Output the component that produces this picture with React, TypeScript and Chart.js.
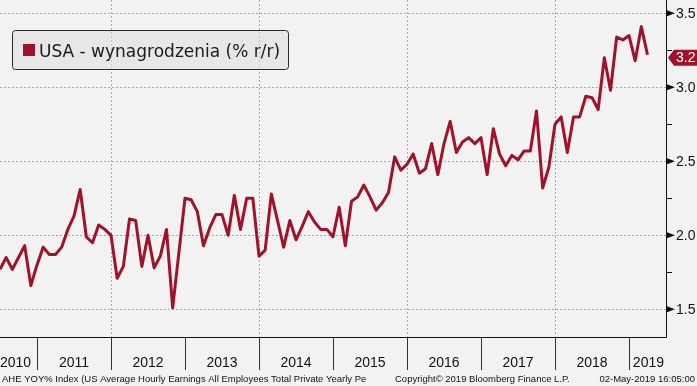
import React, { useEffect, useRef } from 'react';
import { Chart, registerables } from 'chart.js';

Chart.register(...registerables);

// ---- data ----
const SERIES_LABEL = 'USA - wynagrodzenia (% r/r)';
// month positions counted from the start of 2010 (6 = end of Jun 2010)
const FIRST_MONTH_POS = 6;
const wageGrowth: number[] = [
  1.77, 1.85, 1.77, 1.85, 1.93, 1.66, // 2010 H2
  1.80, 1.92, 1.87, 1.87, 1.92, 2.04, 2.13, 2.31, 1.99, 1.95, 2.07, 2.04, // 2011
  2.00, 1.71, 1.79, 2.11, 2.10, 1.79, 2.00, 1.78, 1.86, 2.04, 1.51, 1.88, // 2012
  2.25, 2.24, 2.16, 1.93, 2.05, 2.14, 2.14, 2.00, 2.27, 2.04, 2.25, 2.25, // 2013
  1.86, 1.90, 2.28, 2.10, 1.92, 2.10, 1.97, 2.06, 2.16, 2.09, 2.04, 2.04, // 2014
  1.99, 2.19, 1.93, 2.23, 2.26, 2.34, 2.26, 2.17, 2.22, 2.29, 2.53, 2.44, // 2015
  2.48, 2.55, 2.42, 2.45, 2.62, 2.41, 2.62, 2.77, 2.56, 2.63, 2.66, 2.62, // 2016
  2.66, 2.41, 2.72, 2.55, 2.47, 2.54, 2.51, 2.57, 2.57, 2.84, 2.32, 2.46, // 2017
  2.75, 2.80, 2.56, 2.80, 2.80, 2.94, 2.93, 2.85, 3.20, 2.98, 3.34, 3.32, // 2018
  3.35, 3.18, 3.41, 3.22, // 2019
];
const yearLabels = ['2010', '2011', '2012', '2013', '2014', '2015', '2016', '2017', '2018', '2019'];
const yMajorTicks = [1.5, 2.0, 2.5, 3.0, 3.5];
const yMinorTicks = [1.75, 2.25, 2.75, 3.25];
const gridYearStarts = [24, 48, 72, 96]; // 2012, 2014, 2016, 2018
const LAST_VALUE_LABEL = '3.2';
const LAST_VALUE = 3.2;
const X_MIN = 6;
const X_MAX = 114;
const Y_MIN = 1.313;
const Y_MAX = 3.59;
const FOOTER_LEFT = 'AHE YOY% Index (US Average Hourly Earnings All Employees Total Private Yearly Pe';
const FOOTER_MID = 'Copyright\u00a9 2019 Bloomberg Finance L.P.';
const FOOTER_RIGHT = '02-May-2019 16:05:00';

const LINE_COLOR = '#a0122a';
const BG = '#f2f2f2';
const GRID = '#a8a8a8';

const decorPlugin = {
  id: 'decor',
  beforeDraw(chart: any) {
    const ctx = chart.ctx;
    ctx.save();
    ctx.fillStyle = BG;
    ctx.fillRect(0, 0, chart.width, chart.height);
    ctx.restore();
  },
  afterDraw(chart: any) {
    const ctx: CanvasRenderingContext2D = chart.ctx;
    const area = chart.chartArea;
    const xs = chart.scales.x;
    const ys = chart.scales.y;
    ctx.save();

    // axis lines
    ctx.strokeStyle = '#111';
    ctx.lineWidth = 1;
    ctx.beginPath();
    ctx.moveTo(Math.round(area.right) + 0.5, 0);
    ctx.lineTo(Math.round(area.right) + 0.5, Math.round(area.bottom) + 0.5);
    ctx.lineTo(0, Math.round(area.bottom) + 0.5);
    ctx.stroke();

    // y major ticks (arrow heads) + labels
    ctx.fillStyle = '#111';
    ctx.font = '14px "Liberation Sans", Arial, sans-serif';
    ctx.textBaseline = 'middle';
    ctx.textAlign = 'left';
    const ax = Math.round(area.right) + 1;
    yMajorTicks.forEach((v) => {
      const py = ys.getPixelForValue(v);
      ctx.beginPath();
      ctx.moveTo(ax, py - 3);
      ctx.lineTo(ax + 8, py);
      ctx.lineTo(ax, py + 3);
      ctx.closePath();
      ctx.fill();
      ctx.fillText(v.toFixed(1), ax + 9, py + 0.5);
    });
    // minor ticks
    ctx.beginPath();
    yMinorTicks.forEach((v) => {
      const py = Math.round(ys.getPixelForValue(v)) + 0.5;
      ctx.moveTo(ax, py);
      ctx.lineTo(ax + 5, py);
    });
    ctx.stroke();

    // last value tag
    const ty = ys.getPixelForValue(LAST_VALUE);
    ctx.fillStyle = LINE_COLOR;
    ctx.beginPath();
    ctx.moveTo(ax + 1, ty);
    ctx.lineTo(ax + 7, ty - 8);
    ctx.lineTo(chart.width, ty - 8);
    ctx.lineTo(chart.width, ty + 8);
    ctx.lineTo(ax + 7, ty + 8);
    ctx.closePath();
    ctx.fill();
    ctx.fillStyle = '#ffffff';
    ctx.fillText(LAST_VALUE_LABEL, ax + 9, ty + 0.5);

    // x year separators
    ctx.strokeStyle = '#333';
    ctx.beginPath();
    yearLabels.forEach((_, k) => {
      const start = k * 12;
      if (start > X_MIN && start < X_MAX) {
        const px = Math.round(xs.getPixelForValue(start)) + 0.5;
        ctx.moveTo(px, area.bottom);
        ctx.lineTo(px, area.bottom + 33);
      }
    });
    ctx.stroke();

    // year labels
    ctx.fillStyle = '#111';
    ctx.font = '14px "Liberation Sans Narrow", "Liberation Sans", Arial, sans-serif';
    ctx.textAlign = 'center';
    ctx.textBaseline = 'alphabetic';
    yearLabels.forEach((lab, k) => {
      const mid = xs.getPixelForValue(k * 12 + 6);
      const w = ctx.measureText(lab).width;
      const cx = Math.min(Math.max(mid, area.left + w / 2), area.right - 2 - w / 2);
      ctx.fillText(lab, cx, area.bottom + 30);
    });

    // footer
    ctx.font = '9.5px "Liberation Sans", Arial, sans-serif';
    ctx.textAlign = 'left';
    ctx.fillText(FOOTER_LEFT, 2, 382);
    ctx.fillText(FOOTER_MID, 395, 382);
    ctx.textAlign = 'right';
    ctx.fillText(FOOTER_RIGHT, 695, 382);

    // legend
    const lx = 12.5, ly = 30.5, lw = 276, lh = 39;
    ctx.beginPath();
    const r = 3;
    ctx.moveTo(lx + r, ly);
    ctx.lineTo(lx + lw - r, ly);
    ctx.quadraticCurveTo(lx + lw, ly, lx + lw, ly + r);
    ctx.lineTo(lx + lw, ly + lh - r);
    ctx.quadraticCurveTo(lx + lw, ly + lh, lx + lw - r, ly + lh);
    ctx.lineTo(lx + r, ly + lh);
    ctx.quadraticCurveTo(lx, ly + lh, lx, ly + lh - r);
    ctx.lineTo(lx, ly + r);
    ctx.quadraticCurveTo(lx, ly, lx + r, ly);
    ctx.closePath();
    ctx.fillStyle = 'rgba(222,222,222,0.55)';
    ctx.fill();
    ctx.strokeStyle = '#2a2a2a';
    ctx.lineWidth = 1;
    ctx.stroke();
    ctx.fillStyle = LINE_COLOR;
    ctx.fillRect(23, 44, 12, 12);
    ctx.fillStyle = '#1a1a1a';
    ctx.font = '17px "DejaVu Sans", sans-serif';
    ctx.textAlign = 'left';
    ctx.textBaseline = 'alphabetic';
    ctx.fillText(SERIES_LABEL, 39, 56.5);

    ctx.restore();
  },
};

export default function App() {
  const ref = useRef<HTMLCanvasElement | null>(null);
  useEffect(() => {
    if (!ref.current) return;
    const chart = new Chart(ref.current, {
      type: 'line',
      data: {
        datasets: [
          {
            label: SERIES_LABEL,
            data: wageGrowth.map((v, k) => ({ x: FIRST_MONTH_POS + k, y: v })),
            borderColor: LINE_COLOR,
            backgroundColor: LINE_COLOR,
            borderWidth: 3,
            pointRadius: 0,
            tension: 0,
            borderJoinStyle: 'round',
          },
        ],
      },
      options: {
        responsive: false,
        animation: false,
        devicePixelRatio: 1,
        layout: { padding: 0 },
        plugins: { legend: { display: false }, tooltip: { enabled: false } },
        events: [],
        scales: {
          x: {
            type: 'linear',
            min: X_MIN,
            max: X_MAX,
            ticks: { display: false },
            grid: { color: GRID, drawTicks: false, lineWidth: 1 },
            border: { display: false, dash: [2, 2] },
            afterBuildTicks: (s: any) => {
              s.ticks = gridYearStarts.map((v) => ({ value: v }));
            },
            afterFit: (s: any) => {
              s.height = 49;
            },
          },
          y: {
            type: 'linear',
            position: 'right',
            min: Y_MIN,
            max: Y_MAX,
            ticks: { display: false },
            grid: { color: GRID, drawTicks: false, lineWidth: 1 },
            border: { display: false, dash: [2, 2] },
            afterBuildTicks: (s: any) => {
              s.ticks = yMajorTicks.map((v) => ({ value: v }));
            },
            afterFit: (s: any) => {
              s.width = 31;
            },
          },
        },
      } as any,
      plugins: [decorPlugin],
    });
    return () => chart.destroy();
  }, []);
  return (
    <div style={{ position: 'fixed', left: 0, top: 0, width: 697, height: 386 }}>
      <canvas ref={ref} width={697} height={386} style={{ width: 697, height: 386, display: 'block' }} />
    </div>
  );
}
